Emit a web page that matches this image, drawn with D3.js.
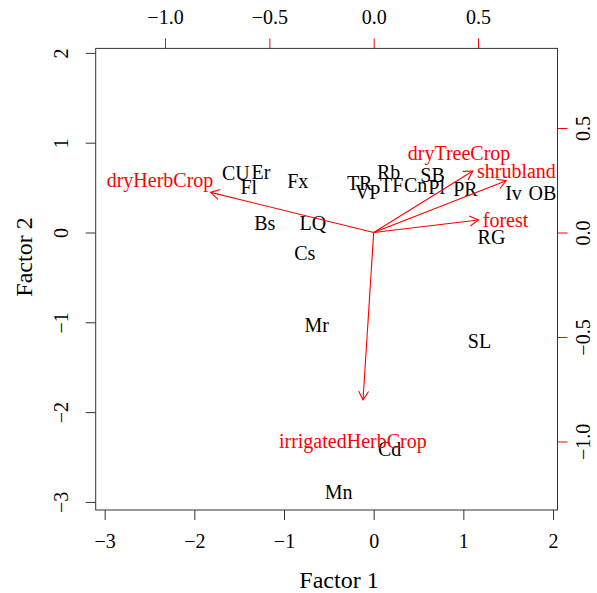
<!DOCTYPE html>
<html>
<head>
<meta charset="utf-8">
<script src="https://cdn.jsdelivr.net/npm/d3@7"></script>
<style>
  html, body { margin: 0; padding: 0; background: #fff; }
  svg { display: block; }
  text { font-family: "Liberation Serif", "DejaVu Serif", serif; }
</style>
</head>
<body>
<script>
// ---- data ----
const siteNames = ["CU","Er","Fl","Fx","Bs","LQ","Cs","TR","VP","Rb","TF","Cn","SB","Pl","PR","Iv","OB","RG","SL","Mr","Cd","Mn"];
const factor1   = [-1.537,-1.258,-1.392,-0.846,-1.214,-0.679,-0.768,-0.156,-0.067,0.167,0.200,0.468,0.657,0.702,1.024,1.559,1.882,1.314,1.180,-0.635,0.178,-0.390];
const factor2   = [0.663,0.674,0.507,0.573,0.106,0.106,-0.228,0.551,0.451,0.674,0.529,0.529,0.640,0.507,0.484,0.440,0.440,-0.050,-1.208,-1.030,-2.411,-2.890];

const varNames  = ["dryHerbCrop","dryTreeCrop","shrubland","forest","irrigatedHerbCrop"];
const loading1  = [-0.781, 0.475, 0.635, 0.502, -0.051];
const loading2  = [ 0.192, 0.294, 0.248, 0.060, -0.801];
const varLabel1 = [-1.024, 0.409, 0.684, 0.632, -0.100];
const varLabel2 = [ 0.248, 0.380, 0.291, 0.060, -0.998];

const xTicks  = [-3,-2,-1,0,1,2];
const yTicks  = [-3,-2,-1,0,1,2];
const x2Ticks = [-1.0,-0.5,0.0,0.5];
const y2Ticks = [-1.0,-0.5,0.0,0.5];

const xTitle = "Factor 1";
const yTitle = "Factor 2";

// ---- layout ----
const W = 597, H = 593;
const L = 95.7, R = 557.5, T = 48.4, B = 510;
const ratio = 2.327;   // factor units per loading unit
const xDom = [-3.1, 2.05], yDom = [-3.09, 2.05];

const x  = d3.scaleLinear().domain(xDom).range([L, R]);
const y  = d3.scaleLinear().domain(yDom).range([B, T]);
const x2 = d3.scaleLinear().domain(xDom.map(v => v / ratio)).range([L, R]);
const y2 = d3.scaleLinear().domain(yDom.map(v => v / ratio)).range([B, T]);

const svg = d3.select("body").append("svg").attr("width", W).attr("height", H);
const RED = "#ff0000";
const FS = 20;

// bottom axis
const gB = svg.append("g").attr("transform", `translate(0,${B})`)
  .call(d3.axisBottom(x).tickValues(xTicks).tickSize(10).tickFormat(d3.format("d")));
// left axis
const gL = svg.append("g").attr("transform", `translate(${L},0)`)
  .call(d3.axisLeft(y).tickValues(yTicks).tickSize(10).tickFormat(d3.format("d")));
// top axis (loadings)
const gT = svg.append("g").attr("transform", `translate(0,${T})`)
  .call(d3.axisTop(x2).tickValues(x2Ticks).tickSize(10).tickFormat(d3.format(".1f")));
// right axis (loadings)
const gR = svg.append("g").attr("transform", `translate(${R},0)`)
  .call(d3.axisRight(y2).tickValues(y2Ticks).tickSize(10).tickFormat(d3.format(".1f")));

[gB, gL, gT, gR].forEach(g => {
  g.select(".domain").remove();
  g.selectAll("text").attr("font-family", "Liberation Serif").attr("font-size", FS).attr("fill", "#000");
});
gB.selectAll(".tick line").attr("stroke", "#333");
gL.selectAll(".tick line").attr("stroke", "#333");
gT.selectAll(".tick line").attr("stroke", RED);
gR.selectAll(".tick line").attr("stroke", RED);

gB.selectAll("text").attr("y", 37.6).attr("dy", null);
gT.selectAll("text").attr("y", -24.8).attr("dy", null);
gL.selectAll("text").attr("x", null).attr("dy", null).attr("text-anchor", "middle")
  .attr("transform", "translate(-28,0) rotate(-90)");
gR.selectAll("text").attr("x", null).attr("dy", null).attr("text-anchor", "middle")
  .attr("transform", "translate(32.6,0) rotate(-90)");

// box
svg.append("rect").attr("x", L).attr("y", T).attr("width", R - L).attr("height", B - T)
  .attr("fill", "none").attr("stroke", "#333").attr("stroke-width", 1);

// site labels
svg.append("g").selectAll("text").data(siteNames).join("text")
  .attr("x", (d, i) => x(factor1[i]))
  .attr("y", (d, i) => y(factor2[i]))
  .attr("dy", "0.33em")
  .attr("text-anchor", "middle")
  .attr("font-size", FS)
  .attr("fill", "#000")
  .text(d => d);

// arrows
const ax0 = x2(0), ay0 = y2(0);
const headLen = 10, headAng = Math.PI / 6;
const arrows = svg.append("g").attr("stroke", RED).attr("stroke-width", 1.1).attr("fill", "none");
varNames.forEach((n, i) => {
  const tx = x2(loading1[i]), ty = y2(loading2[i]);
  arrows.append("line").attr("x1", ax0).attr("y1", ay0).attr("x2", tx).attr("y2", ty);
  const ang = Math.atan2(ty - ay0, tx - ax0);
  const p1 = [tx - headLen * Math.cos(ang - headAng), ty - headLen * Math.sin(ang - headAng)];
  const p2 = [tx - headLen * Math.cos(ang + headAng), ty - headLen * Math.sin(ang + headAng)];
  arrows.append("path").attr("d", `M${p1[0]},${p1[1]}L${tx},${ty}L${p2[0]},${p2[1]}`);
});

svg.append("g").selectAll("text").data(varNames).join("text")
  .attr("x", (d, i) => x2(varLabel1[i]))
  .attr("y", (d, i) => y2(varLabel2[i]))
  .attr("dy", "0.33em")
  .attr("text-anchor", "middle")
  .attr("font-size", FS)
  .attr("fill", RED)
  .text(d => d);

// axis titles
svg.append("text").attr("x", 339).attr("y", 588).attr("text-anchor", "middle")
  .attr("font-size", 24).attr("fill", "#000").text(xTitle);
svg.append("text").attr("transform", "translate(32,257) rotate(-90)").attr("text-anchor", "middle")
  .attr("font-size", 24).attr("fill", "#000").text(yTitle);
</script>
</body>
</html>
